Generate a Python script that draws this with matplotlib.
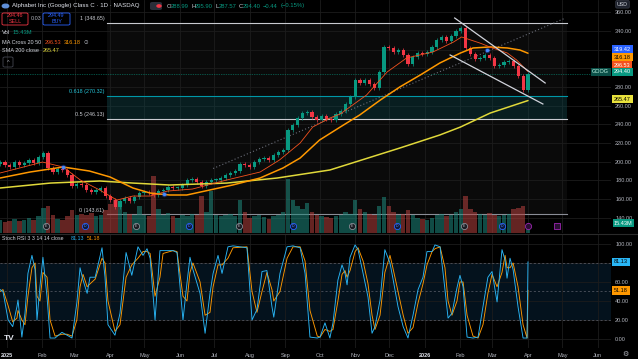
import matplotlib
matplotlib.use("Agg")
import matplotlib.pyplot as plt
import matplotlib.transforms as mtransforms
from matplotlib.patches import FancyBboxPatch
import numpy as np
import pandas as pd

plt.rcParams['font.family'] = ['Liberation Sans', 'DejaVu Sans']

# closes, one candle per ~3 sessions, 26 Dec 2024 -> 1 Apr 2026
closes = [199.6, 196.4, 194.3, 199.6, 196.4, 198.6, 201.8, 198.6, 205.0, 209.3,
          193.2, 188.9, 192.0, 191.1, 185.7, 174.0, 176.0, 175.0, 169.6, 167.5,
          169.6, 171.8, 163.2, 158.9, 151.0, 158.0, 161.0, 158.0, 162.0, 166.4,
          167.5, 166.0, 164.3, 168.5, 169.6, 172.9, 171.8, 171.8, 175.0, 180.4,
          181.4, 178.2, 174.0, 178.2, 180.4, 180.4, 182.5, 185.7, 188.0, 190.0,
          197.5, 196.4, 194.3, 199.6, 203.0, 204.0, 201.8, 207.0, 210.4, 212.5,
          233.9, 239.3, 246.8, 252.1, 253.2, 247.9, 244.6, 249.0, 245.7, 244.6,
          251.0, 254.3, 261.8, 269.3, 287.5, 284.3, 287.5, 283.2, 279.0, 296.1,
          322.9, 321.8, 317.5, 319.6, 314.3, 304.6, 312.1, 316.4, 315.4, 317.5,
          322.9, 330.4, 333.6, 329.3, 334.6, 340.0, 343.2, 321.8, 315.4, 310.0,
          311.0, 314.3, 311.0, 302.5, 303.6, 306.8, 307.9, 302.5, 291.8, 276.8,
          294.40]
first_open = 197.0
# volume in millions, same candles
volume_m = [22, 18, 20, 24, 20, 22, 25, 22, 28, 42,
            45, 30, 24, 22, 28, 38, 30, 32, 30, 34,
            28, 30, 38, 48, 55, 50, 35, 32, 30, 45,
            30, 28, 95, 40, 30, 34, 28, 25, 30, 28,
            32, 30, 62, 35, 70, 30, 28, 30, 32, 28,
            55, 35, 25, 28, 30, 26, 24, 28, 30, 35,
            90, 55, 45, 40, 50, 35, 30, 28, 26, 25,
            28, 30, 35, 32, 55, 40, 35, 32, 30, 45,
            60, 45, 35, 30, 32, 38, 30, 25, 24, 22,
            25, 30, 32, 28, 30, 35, 40, 62, 40, 35,
            32, 30, 34, 30, 28, 30, 32, 40, 42, 45,
            15.43]

# moving averages as (day, price), day 0 = 1 Jan 2025
ma20 = [(-6, 187.9), (11, 193.2), (31, 199.6), (49, 194.3), (64, 180.4), (81, 169.6),
        (96, 158.9), (110, 163.2), (125, 163.2), (140, 168.5), (162, 170.7), (192, 180.4),
        (221, 188.9), (238, 201.8), (256, 220.0), (267, 237.1), (282, 246.8), (291, 251.1),
        (314, 271.4), (332, 296.1), (349, 311.1), (372, 317.5), (390, 328.2), (397, 333.6),
        (413, 327.1), (424, 321.8), (437, 316.4), (445, 309.0), (455, 296.53)]
ma50 = [(-6, 182.5), (20, 188.9), (49, 194.3), (72, 190.0), (90, 183.6), (110, 171.8),
        (125, 166.4), (142, 164.3), (157, 164.3), (169, 167.5), (197, 175.0), (221, 182.5),
        (241, 193.2), (256, 203.9), (273, 223.2), (291, 237.1), (308, 250.0), (326, 266.0),
        (343, 280.0), (361, 292.9), (378, 305.7), (396, 316.4), (407, 321.8), (422, 322.9),
        (437, 321.8), (448, 319.6), (455, 316.18)]
sma200 = [(-6, 171.8), (38, 177.1), (81, 179.3), (110, 177.1), (142, 175.0), (192, 177.1),
          (236, 182.5), (282, 191.1), (343, 214.6), (378, 228.6), (396, 237.1), (422, 252.1),
          (455, 265.47)]

# Stoch RSI 3 3 14 14, (day, value)
stoch_k = [(-6, 52), (-3.5, 50), (1, 20), (5, 13), (8.7, 34), (9.6, 41), (13, 2), (15.7, 27),
           (18.3, 69), (21.8, 88), (24.5, 73), (26.2, 20), (28.8, 55), (31.4, 86), (35, 44),
           (37.6, 1), (42, 1), (48, 7), (52.4, 4), (56.8, 1), (61, 38), (63.8, 75), (66.4, 62),
           (70, 48), (72.5, 65), (77, 65), (83, 96), (85.6, 65), (88.2, 15), (94.3, 4),
           (98.7, 27), (104, 91), (109, 67), (114.4, 97), (118.8, 88), (122.3, 95), (125, 85),
           (129.3, 20), (133.6, 93), (136.3, 93), (145, 93), (148.5, 91), (153.7, 20),
           (157.2, 59), (159.8, 86), (162.4, 73), (168.6, 48), (173, 6), (177.3, 48),
           (180, 69), (184.3, 88), (187.8, 69), (193, 97), (197.4, 98), (209.6, 96), (214, 20),
           (218.3, 31), (222.7, 71), (227, 72), (231.4, 34), (233, 23), (238.4, 69),
           (244.6, 97), (249.8, 98), (256, 96), (260.3, 69), (264.6, 2), (271, 1), (273.4, 2),
           (277.7, 17), (282, 1), (284.7, 17), (289, 62), (292.6, 78), (295.2, 69), (297, 57),
           (299.6, 86), (304, 99), (306.6, 94), (311, 69), (315.3, 44), (318.8, 6), (321.4, 13),
           (325.8, 41), (330, 94), (334.5, 80), (337, 64), (341.5, 34), (346, 13), (350.2, 1),
           (354.6, 25), (359, 52), (363.3, 65), (366.8, 92), (371.2, 92), (373.8, 99),
           (378.2, 97), (382.5, 52), (385.2, 22), (388.6, 27), (393, 54), (395.6, 67),
           (398.3, 55), (401.8, 2), (407, 1), (411.4, 2), (415.7, 34), (420, 65), (423.6, 71),
           (428, 39), (432.3, 94), (435, 83), (436.7, 64), (439.3, 85), (442, 73), (446.3, 34),
           (450.7, 1), (454.2, 1), (455, 81.13)]
stoch_d = [(-6, 50), (-3.5, 52), (1, 35), (5, 18), (8.7, 22), (9.6, 30), (13, 20), (15.7, 15),
           (18.3, 45), (21.8, 75), (24.5, 80), (26.2, 45), (28.8, 40), (31.4, 70), (35, 65),
           (37.6, 20), (42, 3), (48, 5), (52.4, 5), (56.8, 3), (61, 20), (63.8, 55), (66.4, 68),
           (70, 55), (72.5, 58), (77, 63), (83, 85), (85.6, 80), (88.2, 40), (94.3, 8),
           (98.7, 15), (104, 65), (109, 78), (114.4, 85), (118.8, 92), (122.3, 92), (125, 90),
           (129.3, 45), (133.6, 65), (136.3, 90), (145, 93), (148.5, 92), (153.7, 45),
           (157.2, 40), (159.8, 70), (162.4, 80), (168.6, 60), (173, 25), (177.3, 28),
           (180, 55), (184.3, 78), (187.8, 78), (193, 85), (197.4, 96), (209.6, 97), (214, 50),
           (218.3, 28), (222.7, 50), (227, 70), (231.4, 52), (233, 40), (238.4, 50),
           (244.6, 85), (249.8, 97), (256, 97), (260.3, 82), (264.6, 30), (271, 3), (273.4, 2),
           (277.7, 10), (282, 8), (284.7, 10), (289, 40), (292.6, 68), (295.2, 72), (297, 65),
           (299.6, 72), (304, 92), (306.6, 96), (311, 82), (315.3, 58), (318.8, 25), (321.4, 10),
           (325.8, 25), (330, 70), (334.5, 88), (337, 75), (341.5, 50), (346, 25), (350.2, 6),
           (354.6, 12), (359, 38), (363.3, 58), (366.8, 78), (371.2, 92), (373.8, 95),
           (378.2, 97), (382.5, 75), (385.2, 40), (388.6, 25), (393, 40), (395.6, 60),
           (398.3, 60), (401.8, 25), (407, 3), (411.4, 1), (415.7, 15), (420, 48), (423.6, 68),
           (428, 55), (432.3, 70), (435, 88), (436.7, 75), (439.3, 75), (442, 80), (446.3, 55),
           (450.7, 15), (454.2, 1), (455, 51.18)]

fib_low, fib_high = 143.61, 348.65
fib_levels = [1, 0.618, 0.5, 0]
fib_days = (87, 489)
channel_up = [(391, 353.9), (470, 284.3)]
channel_dn = [(387, 314.3), (468, 261.8)]
trend_dotted = [(180, 192.7), (487, 353.5)]
ma_cross_pts = [(49, 194.3), (137, 165.5), (419, 319.6)]
earnings_days = [34, 113, 203, 301, 399]
dividend_days = [68, 159, 250, 341, 432]
blue_level = 319.42

# ---------------- drawing ----------------
BG = '#000000'
GRID = '#1c1c1c'
TXT = '#b2b5be'
UP = '#089981'
DN = '#f23645'
C20 = '#f4511e'
C50 = '#ff9800'
C200 = '#e0d83a'
KCOL = '#29b6f6'
DCOL = '#ff9800'

W, H = 638, 359


def box(x0, y0, x1, y1):
    return [x0 / W, 1 - y1 / H, (x1 - x0) / W, (y1 - y0) / H]


def ftxt(x, y, s, **kw):
    kw.setdefault('fontsize', 4.2)
    kw.setdefault('color', '#d1d4dc')
    kw.setdefault('va', 'center')
    return fig.text(x / W, 1 - y / H, s, **kw)


fig = plt.figure(figsize=(6.38, 3.59), dpi=100, facecolor=BG)
ax = fig.add_axes(box(0, 0, 611, 233))
ax2 = fig.add_axes(box(0, 234, 611, 348), sharex=ax)
for a in (ax, ax2):
    a.set_facecolor(BG)
    for s in a.spines.values():
        s.set_visible(False)

months = pd.date_range('2025-01-01', '2026-06-01', freq='MS')
month_days = (months - pd.Timestamp('2025-01-01')).days
month_labels = [str(m.year) if m.month == 1 else m.strftime('%b') for m in months]

# price scale labels hidden behind the tags in the reference
hidden_price = (300, 320)
ax.set_xlim(-6.1, 527.5)
ax.set_ylim(123.6, 373.2)
ax.set_xticks(month_days)
ax.set_yticks(np.arange(140, 380, 20))
ax.grid(True, color=GRID, lw=0.6)
ax.set_axisbelow(True)
ax.yaxis.tick_right()
ax.yaxis.set_major_formatter(lambda v, p: '' if round(v) in hidden_price else f'{v:.2f}')
ax.tick_params(axis='y', length=0, labelsize=4, colors=TXT, pad=3)
ax.tick_params(axis='x', length=0, labelbottom=False)

# fib retracement
fib_p = {lv: fib_low + lv * (fib_high - fib_low) for lv in fib_levels}
fx = np.array(fib_days)
ax.fill_between(fx, fib_p[0], fib_p[1], color='white', alpha=0.045, lw=0, zorder=0.5)
ax.fill_between(fx, fib_p[0.5], fib_p[0.618], color='#00838f', alpha=0.17, lw=0, zorder=0.6)
fib_cols = {1: '#c8cad0', 0.618: '#0097a7', 0.5: '#c8cad0', 0: '#8a8d96'}
for lv in fib_levels:
    ax.plot(fx, [fib_p[lv]] * 2, color=fib_cols[lv], lw=0.8, zorder=1)
    lbl = f'{lv:g} ({fib_p[lv]:.2f})'
    ax.text(fx[0] - 2, fib_p[lv] + 4.5, lbl, fontsize=3.9, ha='right', va='center',
            color='#26c6da' if lv == 0.618 else '#c8cad0', zorder=5)

# volume (bottom of the price pane)
days = np.linspace(-6, 455, len(closes))
opens = np.array([first_open] + closes[:-1])
cl = np.array(closes)
up = cl >= opens
vol_cols = np.where(up, '#1f8a7e', '#b8423f')
ax.bar(days, np.array(volume_m) / 390.0, width=3.9, bottom=0, color=vol_cols, alpha=0.55,
       transform=ax.get_xaxis_transform(), zorder=1.2, lw=0)

# candles
cols = np.where(up, UP, DN)
body_lo = np.minimum(opens, cl)
body_hi = np.maximum(opens, cl)
ax.vlines(days, body_lo - 1.8, body_hi + 1.8, colors=cols, lw=0.5, zorder=3)
ax.bar(days, np.maximum(body_hi - body_lo, 0.6), bottom=body_lo, width=2.8, color=cols,
       lw=0, zorder=3.2)

# moving averages
for pts, c, lw in ((sma200, C200, 1.1), (ma50, C50, 1.1), (ma20, C20, 0.6)):
    d, p = zip(*pts)
    ax.plot(d, p, color=c, lw=lw, zorder=4, solid_capstyle='round')
cx, cy = zip(*ma_cross_pts)
ax.scatter(cx, cy, s=16, color='#2962ff', alpha=0.35, lw=0, zorder=4.5)
ax.scatter(cx, cy, s=6, color='#448aff', lw=0, zorder=4.6)

# drawings
for ln in (channel_up, channel_dn):
    d, p = zip(*ln)
    ax.plot(d, p, color='#d1d4dc', lw=0.9, zorder=4.8)
d, p = zip(*trend_dotted)
ax.plot(d, p, color='#6a6d78', lw=0.8, ls=(0, (1, 2)), zorder=2)
ax.axhline(closes[-1], color=UP, lw=0.5, ls=(0, (1, 1.5)), zorder=2)

# events row
evx = ax.get_xaxis_transform()
ax.scatter(earnings_days, [0.028] * len(earnings_days), s=20, facecolor='#1a1c22',
           edgecolor='#8a8d96', lw=0.6, transform=evx, zorder=6, clip_on=False)
ax.scatter(dividend_days, [0.028] * len(dividend_days), s=20, facecolor='#0d1a3a',
           edgecolor='#2962ff', lw=0.6, transform=evx, zorder=6, clip_on=False)
for dd in earnings_days:
    ax.text(dd, 0.028, 'E', fontsize=2.6, color='#b2b5be', ha='center', va='center',
            transform=evx, zorder=7)
for dd in dividend_days:
    ax.text(dd, 0.028, 'D', fontsize=2.6, color='#5b8cff', ha='center', va='center',
            transform=evx, zorder=7)
ax.scatter([455], [0.028], s=20, facecolor='#2a0f33', edgecolor='#9c27b0', lw=0.6,
           transform=evx, zorder=6)
ax.scatter([480], [0.028], s=20, marker='s', facecolor='#2a0f33', edgecolor='#9c27b0',
           lw=0.6, transform=evx, zorder=6)

# right scale tags
tr = mtransforms.blended_transform_factory(ax.transAxes, ax.transData)
tags = [(f'{blue_level:.2f}', 320.4, '#2962ff', 'white'),
        (f'{ma50[-1][1]:.2f}', 311.9, C50, 'black'),
        (f'{ma20[-1][1]:.2f}', 303.1, C20, 'white'),
        (f'{closes[-1]:.2f}', 296.1, UP, 'white'),
        (f'{sma200[-1][1]:.2f}', 267.0, '#e8e13c', 'black')]
for s, y, fc, tc in tags:
    ax.text(1.005, y, s, transform=tr, fontsize=4, color=tc, va='center', ha='left',
            bbox=dict(boxstyle='square,pad=0.3', fc=fc, ec='none'), zorder=10, clip_on=False)
ax.text(0.997, 296.1, 'GOOG', transform=tr, fontsize=4, color='#cfe', va='center', ha='right',
        bbox=dict(boxstyle='square,pad=0.3', fc='#0b5048', ec='none'), zorder=10, clip_on=False)
ax.text(1.005, 0.042, f'{volume_m[-1]:.2f}M', transform=ax.transAxes, fontsize=4,
        color='white', va='center', ha='left', zorder=10, clip_on=False,
        bbox=dict(boxstyle='square,pad=0.25', fc=UP, ec='none'))

# ---------------- stoch pane ----------------
ax2.set_ylim(-9.5, 110.5)
ax2.set_yticks([0, 20, 40, 60, 80, 100])
ax2.grid(True, color=GRID, lw=0.6)
ax2.set_axisbelow(True)
ax2.yaxis.tick_right()
ax2.yaxis.set_major_formatter(lambda v, p: '' if round(v) == 80 else f'{v:.2f}')
ax2.tick_params(axis='y', length=0, labelsize=4, colors=TXT, pad=3)
ax2.axhspan(20, 80, color='#2196f3', alpha=0.12, lw=0, zorder=0.5)
for lv in (20, 50, 80):
    ax2.axhline(lv, color='#5d606b', lw=0.5, ls=(0, (3, 3)), zorder=1)
d, v = zip(*stoch_d)
ax2.plot(d, v, color=DCOL, lw=0.65, zorder=3)
d, v = zip(*stoch_k)
ax2.plot(d, v, color=KCOL, lw=0.65, zorder=3.1)
tr2 = mtransforms.blended_transform_factory(ax2.transAxes, ax2.transData)
ax2.text(1.005, stoch_k[-1][1], f'{stoch_k[-1][1]:.2f}', transform=tr2, fontsize=4,
         color='black', va='center', bbox=dict(boxstyle='square,pad=0.3', fc=KCOL, ec='none'),
         zorder=10, clip_on=False)
ax2.text(1.005, stoch_d[-1][1], f'{stoch_d[-1][1]:.2f}', transform=tr2, fontsize=4,
         color='black', va='center', bbox=dict(boxstyle='square,pad=0.3', fc=DCOL, ec='none'),
         zorder=10, clip_on=False)

ax2.set_xticks(month_days)
ax2.set_xticklabels(month_labels)
ax2.tick_params(axis='x', length=0, labelsize=4, colors=TXT, pad=3.5)
for t in ax2.get_xticklabels():
    if t.get_text().isdigit():
        t.set_fontweight('bold')
        t.set_color('#e0e3eb')

# separators
fig.add_artist(plt.Line2D([0, 1], [1 - 233.5 / H] * 2, color='#2a2a2a', lw=0.8))

# ---------------- legend texts ----------------
fig.add_artist(plt.Circle((5.5 / W, 1 - 6 / H), 3.2 / W, transform=fig.transFigure,
                          color='#5f8fd9'))
ftxt(12, 6, 'Alphabet Inc (Google) Class C · 1D · NASDAQ', fontsize=4.4, color='#e0e3eb')
fig.add_artist(FancyBboxPatch((150 / W, 1 - 10 / H), 12 / W, 8 / H,
                              boxstyle='round,pad=0,rounding_size=0.004',
                              transform=fig.transFigure, fc='#2a2e39', ec='none'))
fig.add_artist(plt.Circle((159 / W, 1 - 6 / H), 2 / W, transform=fig.transFigure,
                          color=DN))
ohlc = [('O', 167), ('288.99', 171), ('H', 191), ('295.90', 195), ('L', 215),
        ('287.57', 219), ('C', 239), ('294.40', 243), ('−0.44', 263), ('(−0.15%)', 281)]
for s, x in ohlc:
    ftxt(x, 6, s, color='#d1d4dc' if s in 'OHLC' else UP)

for x0, x1, col, price, word in ((2, 28, DN, '294.46', 'SELL'), (43, 70, '#2962ff', '294.49', 'BUY')):
    fig.add_artist(FancyBboxPatch((x0 / W, 1 - 25 / H), (x1 - x0) / W, 12 / H,
                                  boxstyle='round,pad=0,rounding_size=0.003',
                                  transform=fig.transFigure, fc='none', ec=col, lw=0.6))
    ftxt((x0 + x1) / 2, 15.5, price, color=col, ha='center', fontsize=3.9)
    ftxt((x0 + x1) / 2, 21.5, word, color=col, ha='center', fontsize=3.9)
ftxt(36, 19, '0.03', color=TXT, ha='center', fontsize=3.9)

ftxt(2, 32, 'Vol', color='#d1d4dc')
ftxt(13, 32, f'{volume_m[-1]:.2f}M', color=UP)
ftxt(2, 42, 'MA Cross 20 50', color='#d1d4dc', fontsize=4.0)
ftxt(45, 42, f'{ma20[-1][1]:.2f}', color=C20, fontsize=4.0)
ftxt(64, 42, f'{ma50[-1][1]:.2f}', color=C50, fontsize=4.0)
ftxt(84, 42, '⊙', color=TXT, fontsize=4, family='DejaVu Sans')
ftxt(2, 51, 'SMA 200 close', color='#d1d4dc', fontsize=4.0)
ftxt(43, 51, f'{sma200[-1][1]:.2f}', color=C200, fontsize=4.0)
fig.add_artist(FancyBboxPatch((3 / W, 1 - 67 / H), 10 / W, 10 / H,
                              boxstyle='round,pad=0,rounding_size=0.003',
                              transform=fig.transFigure, fc='none', ec='#434651', lw=0.6))
ftxt(8, 62.5, '^', color=TXT, ha='center', fontsize=4)

ftxt(2, 239, 'Stoch RSI 3 3 14 14 close', color='#d1d4dc', fontsize=3.8)
ftxt(71, 239, f'{stoch_k[-1][1]:.2f}', color=KCOL, fontsize=3.8)
ftxt(87, 239, f'{stoch_d[-1][1]:.2f}', color=DCOL, fontsize=3.8)

ftxt(617, 4.3, 'USD', color='#d1d4dc', fontsize=3.8,
     bbox=dict(boxstyle='round,pad=0.25', fc='#1e222d', ec='#363a45', lw=0.5))
ftxt(4, 339, 'TV', color='#e0e3eb', fontsize=6, fontweight='bold')
ftxt(625, 354, '⚙', color=TXT, fontsize=5, family='DejaVu Sans', ha='center')

fig.savefig('out.png', dpi=100, facecolor=BG)
